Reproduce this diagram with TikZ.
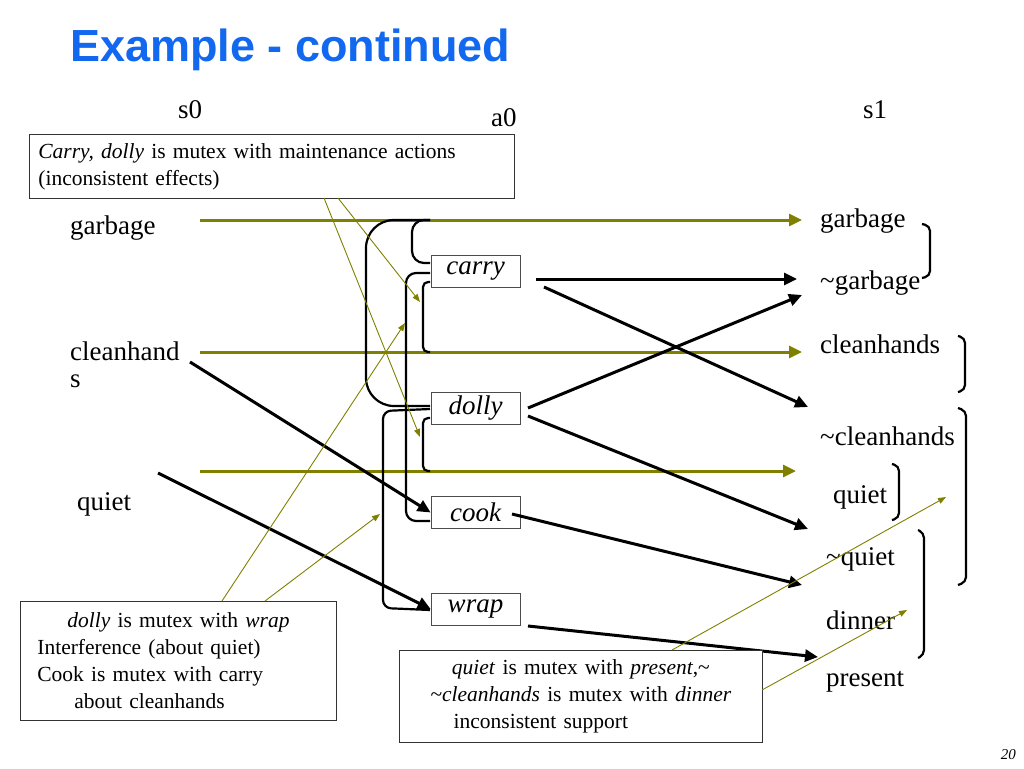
\documentclass[tikz,border=0pt]{standalone}
\usepackage{fontspec}
\setmainfont{Liberation Serif}
\newfontfamily\titlefont{Liberation Sans}
\usetikzlibrary{arrows.meta}
\begin{document}
\begin{tikzpicture}[x=1pt,y=-1pt,
  lbl/.style={anchor=west,inner sep=0pt,font=\fontsize{27}{29}\selectfont},
  act/.style={draw=black!70,line width=0.8pt,minimum width=89pt,minimum height=32pt,inner sep=0pt,font=\fontsize{27}{28}\selectfont\itshape},
  note/.style={draw=black!80,line width=0.8pt,font=\fontsize{21.5}{27}\selectfont,inner sep=0pt},
  noop/.style={draw={rgb,255:red,128;green,128;blue,0},line width=3pt,-{Triangle[length=13pt,width=12pt]}},
  eff/.style={draw=black,line width=3pt,-{Triangle[length=13pt,width=12pt]}},
  thin/.style={draw={rgb,255:red,128;green,128;blue,0},line width=0.9pt,-{Triangle[length=8pt,width=6pt]}},
  br/.style={draw=black,line width=2.2pt,rounded corners=12pt}]
\useasboundingbox (0,0) rectangle (1024,768);
\node[anchor=west,inner sep=0pt,font=\titlefont\bfseries\fontsize{45}{48}\selectfont,text={rgb,255:red,18;green,104;blue,238}] (title) at (70,50) {Example - continued};
\node[lbl] (s0) at (178,110) {s0};
\node[lbl] (a0) at (491,118) {a0};
\node[lbl] (s1) at (863,110) {s1};
% left labels
\node[lbl] (g0) at (70,228) {garbage};
\node[lbl] (c0) at (70,351) {cleanhand};
\node[lbl] (c0b) at (70,381) {s};
\node[lbl] (q0) at (77,504) {quiet};
% right labels
\node[lbl] (g1) at (820,221) {garbage};
\node[lbl] (ng1) at (820,283) {\textasciitilde garbage};
\node[lbl] (c1) at (820,344) {cleanhands};
\node[lbl] (nc1) at (820,436) {\textasciitilde cleanhands};
\node[lbl] (q1) at (833,497) {quiet};
\node[lbl] (nq1) at (826,559) {\textasciitilde quiet};
\node[lbl] (d1) at (826,620) {dinner};
\node[lbl] (p1) at (826,682) {present};
% actions
\node[act] (carry) at (475.5,271) {carry};
\node[act] (dolly) at (475.5,408) {dolly};
\node[act] (cook) at (475.5,512.5) {cook};
\node[act] (wrap) at (475.5,609) {wrap};
% noop lines
\coordinate (ng0) at (200,220); \coordinate (ng1e) at (802,220);
\coordinate (nc0) at (200,352); \coordinate (nc1e) at (802,352);
\coordinate (nq0) at (200,471); \coordinate (nq1e) at (796,471);
\draw[noop] (ng0) -- (ng1e);
\draw[noop] (nc0) -- (nc1e);
\draw[noop] (nq0) -- (nq1e);
% mutex curves
\draw[br] (430,220) -- (412,220) -- (412,263) -- (430,263);
\draw[br,rounded corners=28pt] (430,220) -- (366,220) -- (366,406) -- (430,406);
\draw[br,rounded corners=10pt] (430,273) -- (406,273) -- (406,521) -- (430,521);
\draw[br,rounded corners=5pt] (430,282) -- (423,282) -- (423,352) -- (430,352);
\draw[br,rounded corners=5pt] (430,418) -- (423,418) -- (423,471) -- (430,471);
\draw[br,rounded corners=8pt] (430,409) -- (383,411) -- (383,608) -- (430,610);
% effects
\coordinate (ngt) at (797,279);
\draw[eff] (190,362) -- (cook.west);
\draw[eff] (158,473) -- (wrap.west);
\draw[eff] (536,279) -- (ngt);
\draw[eff] (544,287) -- (808,407);
\draw[eff] (528,408) -- (802,295);
\draw[eff] (528,416) -- (808,529);
\draw[eff] (512,514) -- (802,585);
\draw[eff] (528,626) -- (818,657);
% right mutex brackets
\draw[br,rounded corners=5pt] (922,224) -- (930,226) -- (930,276) -- (922,278);
\draw[br,rounded corners=5pt] (958,336) -- (965,338) -- (965,390) -- (958,392);
\draw[br,rounded corners=5pt] (958,408) -- (966,411) -- (966,582) -- (958,585);
\draw[br,rounded corners=5pt] (892,464) -- (899,466) -- (899,518) -- (892,520);
\draw[br,rounded corners=5pt] (918,530) -- (924,533) -- (924,655) -- (918,658);
% notes
\node[note,anchor=north west,minimum width=485pt,minimum height=64pt,align=left,text width=475pt] (n1) at (29,134)
  {\hspace*{4pt}\textit{Carry, dolly} is mutex with maintenance actions\\\hspace*{4pt}(inconsistent effects)};
\node[note,anchor=north west,minimum width=316pt,minimum height=119pt,align=left,text width=306pt] (n2) at (20,601)
  {\hspace*{42pt}\textit{dolly} is mutex with \textit{wrap}\\\hspace*{12pt}Interference (about quiet)\\\hspace*{12pt}Cook is mutex with carry\\\hspace*{49pt}about cleanhands};
\node[note,anchor=north west,minimum width=363pt,minimum height=92pt,align=center,text width=363pt,fill=white] (n3) at (399,650)
  {\textit{quiet} is mutex with \textit{present},\textasciitilde\\\textasciitilde\textit{cleanhands} is mutex with \textit{dinner}\\\hspace*{-80pt}inconsistent support};
% thin olive arrows
\draw[thin] (338,198) -- (420,302);
\draw[thin] (324,198) -- (420,437);
\draw[thin] (222,601) -- (405,323);
\draw[thin] (265,601) -- (380,514);
\draw[thin] (672,650) -- (946,497);
\draw[thin] (762,690) -- (907,610);
\node[anchor=east,inner sep=0pt,font=\fontsize{15}{16}\selectfont\itshape] (pg) at (1016,755) {20};
\end{tikzpicture}
\end{document}
